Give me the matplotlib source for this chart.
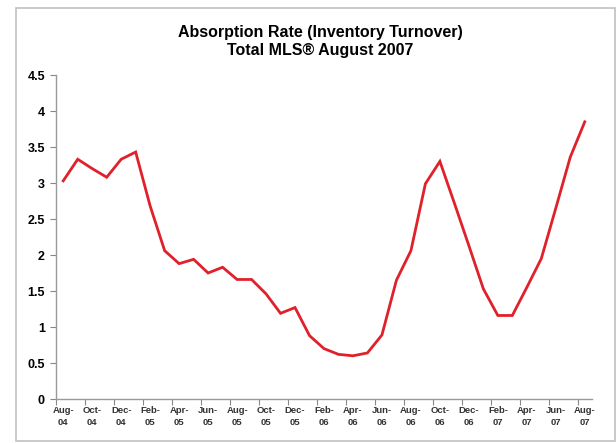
import matplotlib
matplotlib.use("Agg")
import matplotlib.pyplot as plt
from matplotlib.patches import Rectangle
import numpy as np

# Monthly absorption rate, Aug-04 .. Aug-07
months = ["Aug-04", "Sep-04", "Oct-04", "Nov-04", "Dec-04", "Jan-05",
          "Feb-05", "Mar-05", "Apr-05", "May-05", "Jun-05", "Jul-05",
          "Aug-05", "Sep-05", "Oct-05", "Nov-05", "Dec-05", "Jan-06",
          "Feb-06", "Mar-06", "Apr-06", "May-06", "Jun-06", "Jul-06",
          "Aug-06", "Sep-06", "Oct-06", "Nov-06", "Dec-06", "Jan-07",
          "Feb-07", "Mar-07", "Apr-07", "May-07", "Jun-07", "Jul-07",
          "Aug-07"]
rate = [3.03, 3.33, 3.20, 3.08, 3.33, 3.43,
        2.68, 2.06, 1.88, 1.94, 1.75, 1.83,
        1.66, 1.66, 1.46, 1.19, 1.27, 0.88,
        0.70, 0.62, 0.60, 0.64, 0.89, 1.65,
        2.06, 2.99, 3.30, 2.72, 2.13, 1.53,
        1.16, 1.16, 1.55, 1.95, 2.65, 3.36,
        3.85]
y_ticks = [0, 0.5, 1, 1.5, 2, 2.5, 3, 3.5, 4, 4.5]

plt.rcParams['font.family'] = ['Liberation Sans', 'DejaVu Sans']

fig = plt.figure(figsize=(6.16, 4.43), dpi=100)
# light frame around the chart area
fig.patches.append(Rectangle((16 / 616, 1 - 441 / 443), 599 / 616, 433 / 443,
                             transform=fig.transFigure, fill=False,
                             edgecolor="#c0c0c0", linewidth=1.2))

ax = fig.add_axes([56 / 616, 1 - 399 / 443, 536 / 616, 324 / 443])
x = np.arange(len(months))
ax.plot(x, rate, color="#e0202a", linewidth=2.0, solid_joinstyle="miter")

ax.set_xlim(-0.5, len(months) - 0.5)
ax.set_ylim(0, 4.5)
ax.set_yticks(y_ticks)
ax.set_yticklabels([f"{t:g}" for t in y_ticks], fontsize=9, fontweight="bold")

# tick marks between categories, labels every second month
ax.set_xticks(np.arange(-0.5, len(months) - 1, 2))
ax.set_xticklabels([])
ax.set_xticks(x[::2], minor=True)
ax.set_xticklabels([m.replace("-", "-\n") for m in months[::2]], minor=True,
                   fontsize=6.8, fontweight="bold", color="#333333",
                   linespacing=1.5)
ax.tick_params(axis="x", which="minor", length=0, pad=5)
ax.tick_params(axis="x", which="major", length=4, color="#888888", direction="out")
ax.tick_params(axis="y", length=4, color="#888888", direction="out", pad=4)

for side in ["top", "right"]:
    ax.spines[side].set_visible(False)
for side in ["left", "bottom"]:
    ax.spines[side].set_color("#999999")
    ax.spines[side].set_linewidth(1.0)

fig.text(320 / 616, 1 - 32 / 443, "Absorption Rate (Inventory Turnover)",
         ha="center", va="center", fontsize=11.5, fontweight="bold")
fig.text(320 / 616, 1 - 50 / 443, "Total MLS® August 2007",
         ha="center", va="center", fontsize=11.5, fontweight="bold")

fig.savefig("out.png", dpi=100)
